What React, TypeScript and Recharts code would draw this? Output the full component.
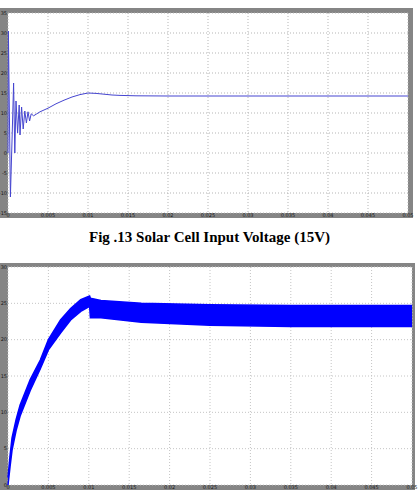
import React from 'react';
import { ComposedChart, Line, Area, XAxis, YAxis, CartesianGrid } from 'recharts';

// top scope: solar cell input voltage
const topTime = [0, 0.00005, 0.0003, 0.0005, 0.0007, 0.00085, 0.001, 0.0012, 0.0014, 0.0015, 0.0017, 0.0019, 0.0021, 0.0023, 0.0025, 0.0027, 0.0029, 0.0032, 0.0036, 0.004, 0.005, 0.006, 0.007, 0.008, 0.009, 0.01, 0.011, 0.012, 0.013, 0.014, 0.016, 0.02, 0.03, 0.04, 0.05];
const topVolts = [0, 30.5, -11, 3, 17.5, 0, 13, 5, 12, 4.5, 11.5, 6, 10.5, 7.5, 10.3, 8, 9.8, 9.3, 9.8, 10.3, 11.2, 12.3, 13.2, 14, 14.6, 15, 14.9, 14.7, 14.5, 14.4, 14.3, 14.25, 14.25, 14.25, 14.25];
const topYTicks = [-15, -10, -5, 0, 5, 10, 15, 20, 25, 30, 35];

// bottom scope: ripple envelope
const bottomTime = [0, 0.00025, 0.0005, 0.001, 0.0015, 0.00275, 0.004, 0.005, 0.0065, 0.00775, 0.009, 0.0101, 0.0102, 0.0115, 0.0165, 0.025, 0.035, 0.05];
const bottomHigh = [1, 4, 6.5, 9, 11, 14.5, 17.2, 20, 22.7, 24.3, 25.5, 26, 25.7, 25.4, 25, 24.8, 24.7, 24.7];
const bottomLow = [0, 2.5, 4.8, 7.5, 9.5, 13, 16, 18.6, 20.9, 22.7, 23.9, 24.6, 23, 23, 22.4, 22, 21.8, 21.8];
const bottomYTicks = [0, 5, 10, 15, 20, 25, 30];

const xTicks = [0, 0.005, 0.01, 0.015, 0.02, 0.025, 0.03, 0.035, 0.04, 0.045, 0.05];
const xLabels = ['0', '0.005', '0.01', '0.015', '0.02', '0.025', '0.03', '0.035', '0.04', '0.045', '0.05'];

const caption = 'Fig .13 Solar Cell Input Voltage (15V)';

const tickStyle = { fontSize: 5, fill: '#1a1a1a', fontFamily: 'DejaVu Sans' };
const fmtX = (v: number) => xLabels[xTicks.findIndex((t) => Math.abs(t - v) < 1e-9)] ?? String(v);

export default function App() {
  const topData = topTime.map((t, i) => ({ t, v: topVolts[i] }));
  const bottomData = bottomTime.map((t, i) => ({ t, band: [bottomLow[i], bottomHigh[i]] }));

  return (
    <div style={{ position: 'absolute', left: 0, top: 0, width: 419, height: 493, background: '#fff', overflow: 'hidden' }}>
      <div style={{ position: 'absolute', left: 0, top: 8, width: 413, height: 210, background: '#858585' }} />
      <div style={{ position: 'absolute', left: 0, top: 8 }}>
        <ComposedChart width={419} height={210} data={topData} margin={{ top: 5, right: 11, bottom: 0, left: 0 }}>
          <CartesianGrid fill="#fff" stroke="#b5b5b5" strokeDasharray="1 2" />
          <XAxis dataKey="t" type="number" domain={[0, 0.05]} ticks={xTicks} interval={0} tickFormatter={fmtX}
            height={5} tickSize={0} tickMargin={0} axisLine={false} tick={tickStyle} />
          <YAxis type="number" domain={[-15, 35]} ticks={topYTicks} interval={0} width={8}
            tickSize={0} tickMargin={1} axisLine={false} tick={tickStyle} />
          <Line dataKey="v" type="linear" stroke="#4545d0" strokeWidth={1} dot={false} isAnimationActive={false} />
        </ComposedChart>
      </div>

      <div style={{ position: 'absolute', left: 0, top: 229, width: 419, textAlign: 'center',
        fontFamily: '"Liberation Serif", "Times New Roman", serif', fontWeight: 'bold', fontSize: 15, lineHeight: '16px' }}>
        {caption}
      </div>

      <div style={{ position: 'absolute', left: 0, top: 263, width: 415, height: 227, background: '#858585' }} />
      <div style={{ position: 'absolute', left: 0, top: 263 }}>
        <ComposedChart width={419} height={227} data={bottomData} margin={{ top: 4, right: 7, bottom: 0, left: 0 }}>
          <CartesianGrid fill="#fff" stroke="#c4c4c4" strokeDasharray="1 2" />
          <XAxis dataKey="t" type="number" domain={[0, 0.05]} ticks={xTicks} interval={0} tickFormatter={fmtX}
            height={5} tickSize={0} tickMargin={0} axisLine={false} tick={tickStyle} />
          <YAxis type="number" domain={[0, 30]} ticks={bottomYTicks} interval={0} width={8}
            tickSize={0} tickMargin={1} axisLine={false} tick={tickStyle} />
          <Area dataKey="band" type="linear" stroke="#0000ff" strokeWidth={1.5} fill="#0000ff" fillOpacity={1}
            dot={false} isAnimationActive={false} />
        </ComposedChart>
      </div>
    </div>
  );
}
